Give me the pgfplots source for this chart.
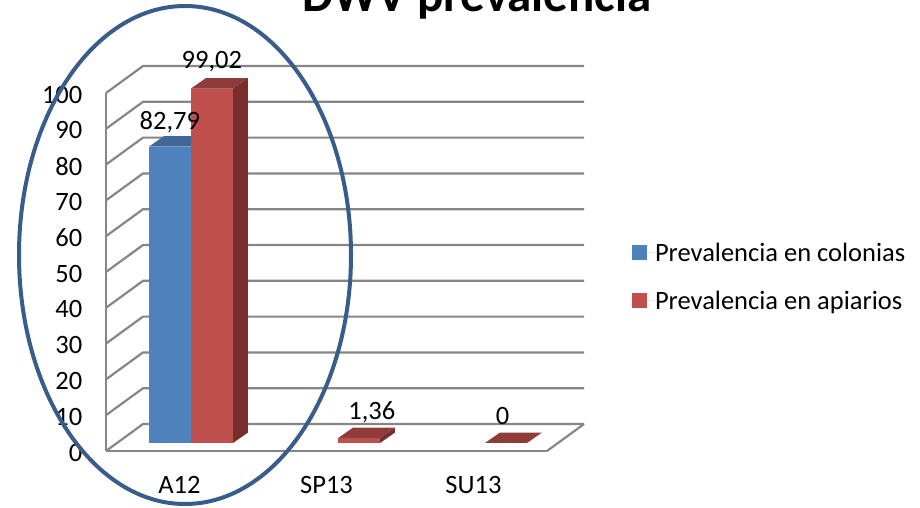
\documentclass[border=0pt]{standalone}
\usepackage{pgfplots}
\pgfplotsset{compat=1.18}
\usepackage{fontspec}
\setmainfont{Carlito}
\definecolor{cblue}{HTML}{4F81BD}
\definecolor{cred}{HTML}{C0504D}
\definecolor{cbluetop}{HTML}{3F6797}
\definecolor{credtop}{HTML}{8F3C3A}
\definecolor{credside}{HTML}{772E2C}
\definecolor{cgrid}{HTML}{868686}
\definecolor{cring}{HTML}{385D8A}
\begin{document}
\begin{tikzpicture}[x=1pt,y=1pt]
\path[use as bounding box] (0,0) rectangle (920,508);
\clip (0,0) rectangle (920,508);
\fill[white] (0,0) rectangle (920,508);
% grid axis: the front plane of the 3D box
\begin{axis}[
  at={(106pt,57pt)}, anchor=south west,
  scale only axis, width=441pt, height=358pt,
  xmin=-0.5, xmax=2.5, ymin=0, ymax=100,
  axis lines=left,
  axis line style={-, draw=cgrid, line width=2.2pt},
  clip=false,
  xtick={0,1,2}, xticklabels={A12,SP13,SU13},
  ytick={0,10,...,100},
  tick style={draw=none},
  tick label style={font=\fontsize{26.5}{28}\selectfont},
  x tick label style={yshift=-20pt},
  y tick label style={xshift=-18pt, yshift=-1.5pt},
  /pgf/number format/assume math mode=true,
]
\pgfplotsinvokeforeach{0,10,...,100}{
  \draw[cgrid, line width=2.2pt] (axis cs:-0.5,#1) -- (axis cs:-0.248,{#1+7.54}) -- (axis cs:2.752,{#1+7.54});
}
\draw[cgrid, line width=2.2pt] (axis cs:2.5,0) -- (axis cs:2.752,7.54);
\end{axis}
% bar axis: same scale, moved 11.5 px right and 8 px up into the depth of the box
\begin{axis}[
  at={(117.5pt,65pt)}, anchor=south west,
  scale only axis, width=441pt, height=358pt,
  xmin=-0.5, xmax=2.5, ymin=0, ymax=100,
  axis line style={draw=none}, ticks=none,
  clip=false,
  legend style={
    at={(axis cs:3.0,46.4)}, anchor=west, draw=none, fill=none,
    font=\fontsize{26.5}{28}\selectfont, row sep=28pt,
    inner sep=0pt, outer sep=0pt,
    nodes={inner sep=0pt, anchor=west},
  },
  legend cell align=left,
  legend image code/.code={\fill[#1] (0pt,-7.5pt) rectangle (15pt,7.5pt); \path (0pt,0pt) -- (23pt,0pt);},
  legend columns=1,
]
\addplot[forget plot, fill=cbluetop, draw=none] coordinates {(-0.2857,82.79) (0,82.79) (0.102,85.72) (-0.1837,85.72)} --cycle;
\addplot[ybar, bar width=42pt, bar shift=-21pt, fill=cblue, draw=none]
  coordinates {(0,82.79)};
\addlegendentry{Prevalencia en colonias}
\addplot[ybar, bar width=42pt, bar shift=21pt, fill=cred, draw=none]
  coordinates {(0,99.02) (1,1.36) (2,0)};
\addlegendentry{Prevalencia en apiarios}
% depth faces of the red bars
\addplot[forget plot, fill=credtop, draw=none] coordinates {(0,99.02) (0.2857,99.02) (0.3877,101.95) (0.102,101.95)} --cycle;
\addplot[forget plot, fill=credside, draw=none] coordinates {(0.2857,0) (0.2857,99.02) (0.3877,101.95) (0.3877,2.93)} --cycle;
\addplot[forget plot, fill=credtop, draw=none] coordinates {(1,1.36) (1.2857,1.36) (1.3877,4.29) (1.102,4.29)} --cycle;
\addplot[forget plot, fill=credside, draw=none] coordinates {(1.2857,0) (1.2857,1.36) (1.3877,4.29) (1.3877,2.93)} --cycle;
\addplot[forget plot, fill=credtop, draw=none] coordinates {(2,0) (2.2857,0) (2.3877,2.93) (2.102,2.93)} --cycle;
% value labels
\node[font=\fontsize{26.5}{28}\selectfont] at (axis cs:-0.144,89.6) {82,79};
\node[font=\fontsize{26.5}{28}\selectfont] at (axis cs:0.142,106.4) {99,02};
\node[font=\fontsize{26.5}{28}\selectfont] at (axis cs:1.23,8.6) {1,36};
\node[font=\fontsize{26.5}{28}\selectfont] at (axis cs:2.12,7.5) {0};
\end{axis}
\node[anchor=base, font=\fontsize{49}{50}\selectfont\bfseries] at (477,496) {DWV  prevalencia};
\draw[cring, line width=4pt] (185,253) ellipse [x radius=166, y radius=249];
\end{tikzpicture}
\end{document}
